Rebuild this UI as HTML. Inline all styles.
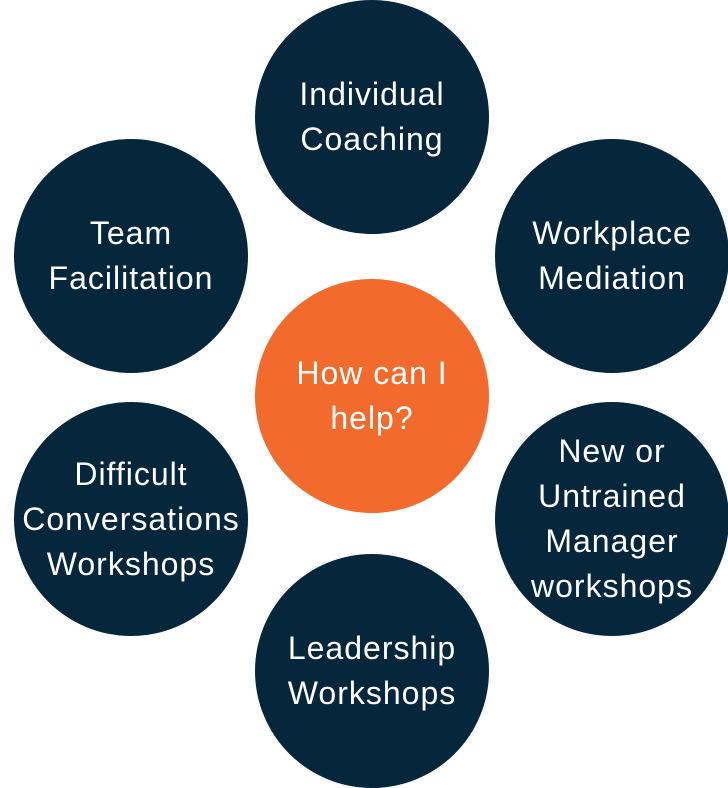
<!DOCTYPE html>
<html><head><meta charset="utf-8"><style>
html,body{margin:0;padding:0;background:#fff;}
body{width:728px;height:788px;position:relative;overflow:hidden;font-family:"Liberation Sans",sans-serif;}
.c{position:absolute;width:234px;height:234px;border-radius:50%;background:#06273b;color:#fff;display:flex;align-items:center;justify-content:center;text-align:center;font-size:32px;letter-spacing:1px;line-height:45px;white-space:nowrap;}
.o{background:#f26a2c;}
</style></head><body>
<div class="c" style="left:255px;top:0px;">Individual<br>Coaching</div>
<div class="c" style="left:14px;top:139px;">Team<br>Facilitation</div>
<div class="c" style="left:495px;top:139px;">Workplace<br>Mediation</div>
<div class="c o" style="left:255px;top:279px;">How can I<br>help?</div>
<div class="c" style="left:14px;top:402px;">Difficult<br>Conversations<br>Workshops</div>
<div class="c" style="left:495px;top:402px;">New or<br>Untrained<br>Manager<br>workshops</div>
<div class="c" style="left:255px;top:554px;">Leadership<br>Workshops</div>
</body></html>
